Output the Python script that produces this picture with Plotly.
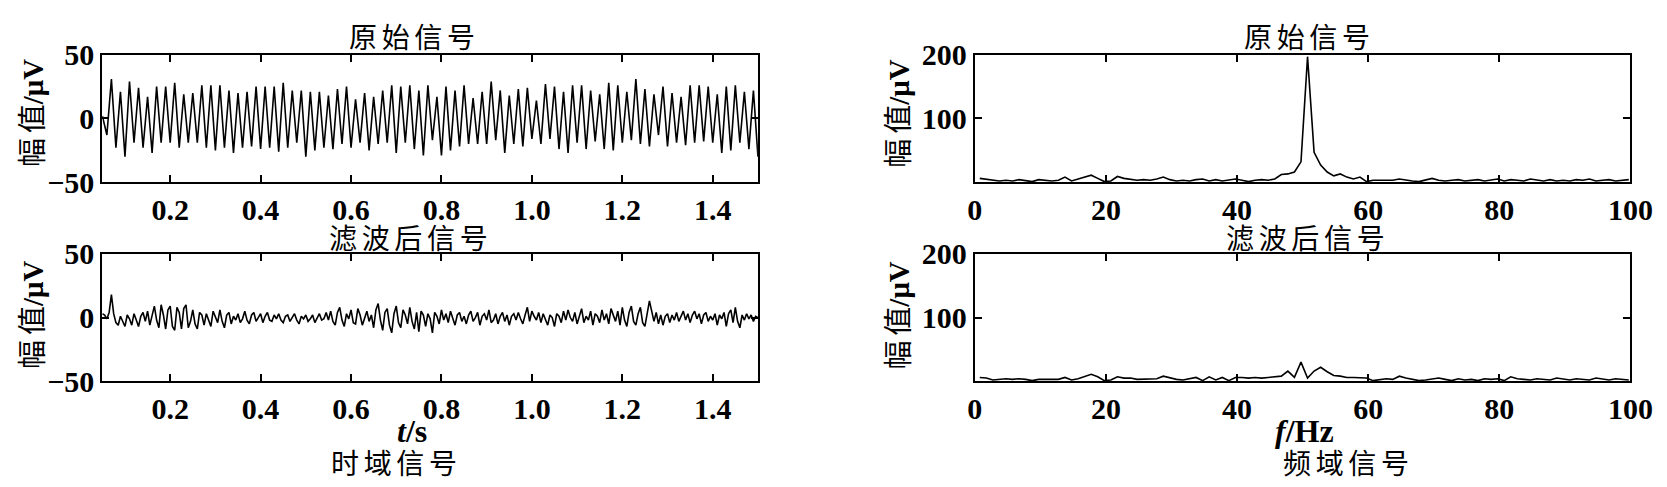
import numpy as np
import plotly.graph_objects as go

W, H = 1667, 487

# ---------------- data ----------------
# time-domain original signal: sample values (start point, then successive peaks/troughs)
T_START = 0.05
T_STEP_ORIG = 0.01
ORIG_SIGNAL = [
    2, -13, 31, -23, 21, -30, 29, -19, 24, -23, 17, -27, 25, -19, 25, -19, 28, -23, 19, -19,
    20, -19, 26, -23, 26, -25, 26, -23, 22, -27, 20, -23, 21, -22, 25, -24, 25, -23, 25, -26,
    28, -23, 22, -19, 22, -30, 21, -25, 21, -23, 18, -24, 23, -20, 25, -23, 15, -19, 20, -25,
    17, -20, 22, -19, 26, -27, 25, -19, 26,
    -24, 22, -29, 26, -17, 17, -29, 25, -25, 22, -22, 26, -20, 16, -20, 21, -20, 29, -17, 22,
    -27, 18, -20, 23, -22, 24, -16, 14, -20, 27, -16, 25, -24, 21, -27, 26, -19, 26, -24, 22,
    -18, 19, -24, 28, -25, 26, -19, 21, -17, 31, -20, 23,
    -22, 19, -13, 25, -22, 20, -19, 17, -21, 26, -19, 26, -18, 25, -19, 19, -27, 25, -25, 26,
    -19, 21, -24, 22, -30,
]

# time-domain filtered signal
T_STEP_FILT = 0.005
FILT_SIGNAL = [
    3, 2, -1, 4, 18, 3, -4, -6, 1, -3, -7, 2, -1, -6, 3, -2, -7, 1, 4, -3,
    5, -6, 3, 9, -2, -8, 10, 2, -9, 6, 9, -7, -10, 8, 4, -9, 7, 10, -8, -3,
    6, -5, -9, 4, 2, -6, 3, -2, -7, 5, 1, -4, 6, -3, -8, 2, 4, -5, 1, -2,
    3, -4, -1, 5, -2, -5, 2, 4, -3, 0, 3, -4, 1, 4, -2, -3, 2, -1, 3, -2,
    -4, 1, 2, -3, 0, 3, -2, -5, 1, -1, 2, -3, -1, 2, -4, 0, 3, -2, -1, 4,
    -2, 5, -3, -6, 4, 8, -2, -7, 3, -1, 6, -4, -5, 7, 2, -6, -1, 5, -3, 2,
    -8, 6, 11, -2, -10, 4, 7, -6, -12, 3, 9, -4, -8, 6, 2, -5, 8, -3, -9, 4,
    -11, 5, 2, -7, 3, -1, -12, 4, 1, -5, 6, -2, 3, -4, 5, -1, -6, 2, 4, -3,
    1, -5, 2, 5, -3, 0, 4, -6, 1, 3, -2, 6, -4, -2, 3, -5, 1, 4, -3, 2,
    -6, 1, 3, -2, 4, -1, -5, 2, 8, -3, 5, 1, -2, 4, -4, 3, -1, -6, 2, 0,
    -7, 3, 1, -4, 5, -2, 6, 0, -3, 4, -5, 2, 7, -4, 1, -2, 5, -6, 3, 1,
    -4, 6, -2, 3, -5, 7, 1, -3, 5, -6, 8, -2, -7, 4, 9, -3, -6, 3, 8, -4,
    -7, 2, 13, 5, -3, 4, -5, 2, -6, 1, 3, -4, 2, -2, 4, -3, 1, 5, -2, 3,
    -4, 2, 5, -1, 3, -5, 2, 4, -3, 1, -2, 3, -6, 2, -1, 4, -7, 3, 6, -4,
    8, -3, -8, 2, -2, 3, -1, 2, -3, 1, 0,
]

# frequency-domain amplitude spectra
F_START = 0.75
F_STEP = 1.0
SPEC_ORIG = [
    6, 5, 4, 2, 3, 2, 4, 3, 1, 4, 3, 2, 3, 8, 2, 5, 9, 11, 6, 1,
    2, 9, 6, 5, 3, 4, 3, 5, 8, 4, 2, 3, 2, 4, 5, 2, 4, 2, 3, 5,
    3, 1, 3, 4, 3, 5, 12, 13, 16, 32, 197, 47, 27, 16, 10, 13, 8, 5, 8, 1,
    3, 3, 4, 3, 5, 3, 2, 1, 4, 6, 3, 2, 3, 4, 2, 3, 4, 2, 3, 5,
    2, 4, 3, 2, 5, 3, 2, 4, 2, 3, 2, 4, 3, 5, 2, 3, 4, 2, 3, 4,
]
SPEC_FILT = [
    6, 5, 2, 3, 4, 3, 4, 3, 1, 3, 3, 3, 3, 6, 2, 4, 8, 11, 7, 1,
    2, 7, 5, 5, 3, 3, 3, 4, 8, 5, 3, 2, 4, 6, 1, 7, 2, 6, 1, 6,
    6, 5, 6, 5, 6, 7, 8, 16, 6, 30, 5, 16, 22, 15, 9, 8, 6, 6, 6, 5,
    1, 3, 4, 3, 8, 5, 3, 1, 2, 4, 5, 3, 1, 4, 2, 3, 1, 4, 3, 4,
    1, 7, 4, 3, 2, 4, 3, 2, 5, 3, 2, 4, 3, 2, 5, 3, 2, 4, 3, 2,
]

TIME_TICKS = [0.2, 0.4, 0.6, 0.8, 1.0, 1.2, 1.4]
TIME_TICK_TEXT = ["0.2", "0.4", "0.6", "0.8", "1.0", "1.2", "1.4"]
FREQ_TICKS = [0, 20, 40, 60, 80, 100]
AMP_TICKS_T = [-50, 0, 50]
AMP_TICKS_F = [100, 200]

SP = "\u2006"
TITLE_ORIG = SP.join("原始信号")
TITLE_FILT = SP.join("滤波后信号")
YLABEL = "幅" + SP + "值<b>/μV</b>"
XLABEL_T = "<b><i>t</i>/s</b>"
XLABEL_F = "<b><i>f</i>/Hz</b>"
CAPTION_T = SP.join("时域信号")
CAPTION_F = SP.join("频域信号")

# ---------------- build ----------------
t_orig = T_START + T_STEP_ORIG * np.arange(len(ORIG_SIGNAL))
t_filt = T_START + T_STEP_FILT * np.arange(len(FILT_SIGNAL))
f_orig = F_START + F_STEP * np.arange(len(SPEC_ORIG))
f_filt = F_START + F_STEP * np.arange(len(SPEC_FILT))

fig = go.Figure()
line = dict(color="black", width=1.6)
fig.add_trace(go.Scatter(x=t_orig, y=ORIG_SIGNAL, mode="lines", line=line, xaxis="x", yaxis="y"))
fig.add_trace(go.Scatter(x=f_orig, y=SPEC_ORIG, mode="lines", line=line, xaxis="x2", yaxis="y2"))
fig.add_trace(go.Scatter(x=t_filt, y=FILT_SIGNAL, mode="lines", line=line, xaxis="x3", yaxis="y3"))
fig.add_trace(go.Scatter(x=f_filt, y=SPEC_FILT, mode="lines", line=line, xaxis="x4", yaxis="y4"))

def px(xp):
    return xp / W

def py(yp):
    return 1 - yp / H

L_DOM = [px(88), px(756)]
R_DOM = [px(977), px(1645)]
T_DOM = [py(169), py(32)]
B_DOM = [py(383), py(246)]

tickfont = dict(family="Liberation Serif", size=30, color="black", weight="bold")
common = dict(
    showline=True, linecolor="black", linewidth=2, mirror="allticks",
    ticks="inside", ticklen=7, tickwidth=1.5, tickcolor="black",
    showgrid=False, zeroline=False, tickfont=tickfont, ticklabeloverflow="allow",
)

fig.update_layout(
    width=W, height=H, margin=dict(l=0, r=0, t=0, b=0),
    paper_bgcolor="white", plot_bgcolor="white", showlegend=False,
    xaxis=dict(domain=L_DOM, anchor="y", range=[0.05, 1.5], tickvals=TIME_TICKS, ticktext=TIME_TICK_TEXT, **common),
    yaxis=dict(domain=T_DOM, anchor="x", range=[-50, 50], tickvals=AMP_TICKS_T, **common),
    xaxis2=dict(domain=R_DOM, anchor="y2", range=[0, 100], tickvals=FREQ_TICKS, **common),
    yaxis2=dict(domain=T_DOM, anchor="x2", range=[0, 200], tickvals=AMP_TICKS_F, **common),
    xaxis3=dict(domain=L_DOM, anchor="y3", range=[0.05, 1.5], tickvals=TIME_TICKS, ticktext=TIME_TICK_TEXT, **common),
    yaxis3=dict(domain=B_DOM, anchor="x3", range=[-50, 50], tickvals=AMP_TICKS_T, **common),
    xaxis4=dict(domain=R_DOM, anchor="y4", range=[0, 100], tickvals=FREQ_TICKS, **common),
    yaxis4=dict(domain=B_DOM, anchor="x4", range=[0, 200], tickvals=AMP_TICKS_F, **common),
)

cjk = dict(family="Liberation Serif, Noto Sans CJK SC", size=28, color="black")
ylab_font = dict(family="Liberation Serif, Noto Sans CJK SC", size=29, color="black")
xlab_font = dict(family="Liberation Serif", size=32, color="black")

def ann(text, xp, yp, angle=0, font=cjk):
    fig.add_annotation(text=text, x=px(xp), y=py(yp), xref="paper", yref="paper",
                       showarrow=False, xanchor="center", yanchor="middle",
                       textangle=angle, font=font)

ann(TITLE_ORIG, 404, 15)
ann(TITLE_ORIG, 1315, 15)
ann(TITLE_FILT, 400, 231)
ann(TITLE_FILT, 1314, 231)
ann(YLABEL, 18, 95, angle=-90, font=ylab_font)
ann(YLABEL, 18, 312, angle=-90, font=ylab_font)
ann(YLABEL, 900, 95, angle=-90, font=ylab_font)
ann(YLABEL, 900, 312, angle=-90, font=ylab_font)
ann(XLABEL_T, 403, 436, font=xlab_font)
ann(XLABEL_F, 1313, 436, font=xlab_font)
ann(CAPTION_T, 385, 473)
ann(CAPTION_F, 1355, 473)

fig.write_html("out.html")
